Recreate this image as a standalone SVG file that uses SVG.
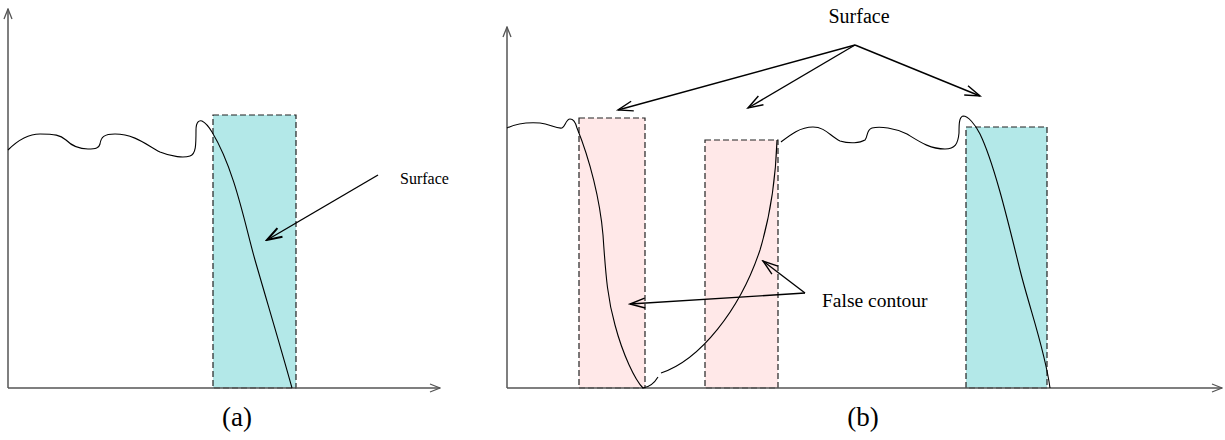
<svg xmlns="http://www.w3.org/2000/svg" width="1225" height="440" viewBox="0 0 1225 440">
<defs>
<style>
.axis{stroke:#555;stroke-width:1.5;fill:none}
.curve{stroke:#000;stroke-width:1.1;fill:none}
.cyan{fill:#b3e8e8;stroke:#222;stroke-width:1.2;stroke-dasharray:6,3}
.pink{fill:#ffe8e8;stroke:#222;stroke-width:1.2;stroke-dasharray:6,3}
.lead{stroke:#000;stroke-width:1.4;fill:none}
.lbl{font-family:"Liberation Serif","Times New Roman",serif;fill:#000}
</style>
<marker id="ah" markerUnits="userSpaceOnUse" markerWidth="18" markerHeight="12" refX="16" refY="6" orient="auto">
<path d="M1,1 L16,6 L1,11" fill="none" stroke="#000" stroke-width="1.4"/>
</marker>
<marker id="ahb" markerUnits="userSpaceOnUse" markerWidth="18" markerHeight="12" refX="16" refY="6" orient="auto">
<path d="M1,1 L16,6 L1,11" fill="none" stroke="#000" stroke-width="2"/>
</marker>
<marker id="ax" markerUnits="userSpaceOnUse" markerWidth="12" markerHeight="10" refX="11" refY="5" orient="auto">
<path d="M1,1 L11,5 L1,9" fill="none" stroke="#555" stroke-width="1.3"/>
</marker>
</defs>
<rect width="1225" height="440" fill="#fff"/>

<g id="panel-a">
<g id="a-box"><rect class="cyan" x="213" y="115" width="83" height="273"/></g>
<g id="a-axes">
<path class="axis" d="M8,388 L8,9" marker-end="url(#ax)"/>
<path class="axis" d="M8,388 L440,388" marker-end="url(#ax)"/>
</g>
<g id="a-curve">
<path class="curve" d="M8,150 C18,140 28,134 40,134 C55,134 60,135 66,140 C72,146 78,149 88,149 C96,149 99,148 100,144 C101,137 104,134 115,134 C135,134 148,146 160,152 C172,157 184,158 190,156 C196,154 196,145 196,130 C196,122 199,120 202,121 C206,123 209,127 212,132 C235,170 245,225 255,260 C268,305 280,345 292,388"/>
</g>
<g id="a-label"><text class="lbl" x="400" y="184" font-size="16">Surface</text></g>
<g id="a-caption"><text class="lbl" x="237" y="426" font-size="27" text-anchor="middle">(a)</text></g>
</g>

<g id="panel-b">
<g id="b-box1"><rect class="pink" x="579" y="118" width="66" height="270"/></g>
<g id="b-box2"><rect class="pink" x="705" y="140" width="73" height="248"/></g>
<g id="b-box3"><rect class="cyan" x="966" y="127" width="81" height="261"/></g>
<g id="b-axes">
<path class="axis" d="M507,388 L507,27" marker-end="url(#ax)"/>
<path class="axis" d="M507,388 L1222,388" marker-end="url(#ax)"/>
</g>
<g id="b-curve">
<path class="curve" d="M507,128 C515,124 525,122 540,123 C550,124 556,129 562,128 C565,127 566,119 570,119 C574,119 576,124 577,128 C590,160 600,200 603,235 C606,280 608,300 615,325 C623,355 635,380 643,388 C650,387 655,382 658,377"/>
<path class="curve" d="M661,373 C700,360 740,310 760,250 C772,210 776,170 777,140"/>
<path class="curve" d="M781,142 C790,135 800,127 813,127 C825,127 830,136 840,141 C850,144 860,143 865,140 C868,137 866,130 872,128 C880,126 895,128 907,134 C920,142 930,149 945,149 C955,149 958,144 959,133 C959,125 959,117 963,116 C968,116 975,124 980,134 C995,165 1010,230 1020,270 C1030,310 1045,350 1050,388"/>
</g>
<g id="b-surface-label"><text class="lbl" x="859" y="23" font-size="20" text-anchor="middle">Surface</text></g>
<g id="b-false-label"><text class="lbl" x="822" y="307" font-size="19.5">False contour</text></g>
<g id="b-caption"><text class="lbl" x="863" y="426" font-size="27" text-anchor="middle">(b)</text></g>
</g>

<g id="connectors">
<path class="lead" d="M378,175 L267,240" stroke-width="2" marker-end="url(#ahb)"/>
<path class="lead" d="M855,45 L618,110" marker-end="url(#ah)"/>
<path class="lead" d="M855,45 L748,108" marker-end="url(#ah)"/>
<path class="lead" d="M855,45 L980,96" marker-end="url(#ah)"/>
<path class="lead" d="M805,293 L630,304" marker-end="url(#ah)"/>
<path class="lead" d="M805,293 L763,261" marker-end="url(#ah)"/>
</g>
</svg>
